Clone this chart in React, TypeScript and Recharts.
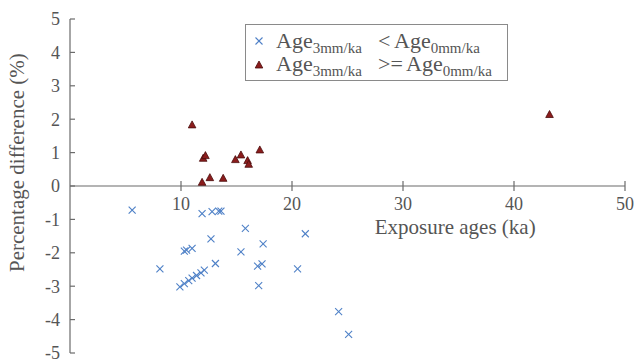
import { ScatterChart, Scatter, XAxis, YAxis, ReferenceLine, ReferenceDot } from "recharts";

// Age_3mm/ka < Age_0mm/ka
const lowerAges = [5.6, 11.9, 12.8, 13.4, 13.6, 15.8, 21.2, 12.7, 17.4, 10.3, 10.5, 11.0, 15.4, 8.1, 13.1, 16.9, 17.3, 20.5, 9.9, 10.3, 10.7, 11.0, 11.4, 11.8, 12.1, 17.0, 24.2, 25.1];
const lowerDiffs = [-0.72, -0.83, -0.77, -0.75, -0.75, -1.27, -1.43, -1.58, -1.73, -1.95, -1.92, -1.87, -1.97, -2.48, -2.32, -2.40, -2.33, -2.48, -3.02, -2.92, -2.83, -2.76, -2.68, -2.60, -2.52, -2.98, -3.76, -4.44];

// Age_3mm/ka >= Age_0mm/ka
const higherAges = [11.0, 12.0, 12.2, 12.6, 11.9, 13.8, 14.9, 15.4, 16.0, 16.1, 17.1, 43.2];
const higherDiffs = [1.83, 0.83, 0.91, 0.25, 0.11, 0.23, 0.79, 0.93, 0.76, 0.65, 1.08, 2.14];

const xTicks = [10, 20, 30, 40, 50];
const yTicks = [-5, -4, -3, -2, -1, 0, 1, 2, 3, 4, 5];

const FONT = "Liberation Serif, DejaVu Serif, serif";
const AXIS = "#6b6b6b";
const TEXT = "#555";
const BLUE = "#4f81c7";
const RED = "#8b1c1c";

const lowerData = lowerAges.map((x, i) => ({ x, y: lowerDiffs[i] }));
const higherData = higherAges.map((x, i) => ({ x, y: higherDiffs[i] }));

const CrossMark = (props: any) => {
    const { cx, cy } = props;
    const s = 3.5;
    return (
        <g stroke={BLUE} strokeWidth={1.1}>
            <line x1={cx - s} y1={cy - s} x2={cx + s} y2={cy + s} />
            <line x1={cx - s} y1={cy + s} x2={cx + s} y2={cy - s} />
        </g>
    );
};

const TriMark = (props: any) => {
    const { cx, cy } = props;
    return (
        <polygon
            points={`${cx},${cy - 4} ${cx - 3.8},${cy + 3} ${cx + 3.8},${cy + 3}`}
            fill={RED}
            stroke="#4a0d0d"
            strokeWidth={0.8}
        />
    );
};

const XTick = (props: any) => {
    const { cx, cy, label } = props;
    return (
        <g>
            <line x1={cx} y1={cy - 5} x2={cx} y2={cy + 5} stroke={AXIS} strokeWidth={1.2} />
            <text x={cx} y={cy + 24} textAnchor="middle" fontFamily={FONT} fontSize={18} fill={TEXT}>
                {label}
            </text>
        </g>
    );
};

const ageLabel = (sub: string) => (
    <span>
        Age<sub style={{ fontSize: 15, verticalAlign: "-5px", lineHeight: 0 }}>{sub}</sub>
    </span>
);

function ChartLegend() {
    return (
        <div
            style={{
                position: "absolute",
                left: 245,
                top: 24,
                width: 261,
                height: 55,
                border: "1px solid #8a8a8a",
                background: "#fff",
                fontFamily: FONT,
                fontSize: 22,
                color: TEXT,
                lineHeight: "23px",
            }}
        >
            {[
                { mark: "cross", op: "<" },
                { mark: "tri", op: ">=" },
            ].map((row, i) => (
                <div key={i} style={{ display: "flex", alignItems: "center", height: 23, marginTop: i === 0 ? 4 : 0 }}>
                    <svg width={30} height={12} style={{ flex: "none" }}>
                        {row.mark === "cross" ? <CrossMark cx={13} cy={6} /> : <TriMark cx={13} cy={7} />}
                    </svg>
                    <span style={{ width: 102, flex: "none" }}>{ageLabel("3mm/ka")}</span>
                    <span style={{ width: row.op === "<" ? 16 : 28, flex: "none" }}>{row.op}</span>
                    {ageLabel("0mm/ka")}
                </div>
            ))}
        </div>
    );
}

export default function App() {
    return (
        <div style={{ position: "absolute", left: 0, top: 0, width: 635, height: 362, background: "#fff" }}>
            <ScatterChart width={635} height={362} margin={{ top: 19, right: 10, bottom: 9, left: 0 }}>
                <XAxis type="number" dataKey="x" domain={[0, 50]} hide />
                <YAxis
                    type="number"
                    dataKey="y"
                    width={70}
                    domain={[-5, 5]}
                    ticks={yTicks}
                    interval={0}
                    tickSize={-5}
                    tickMargin={15}
                    stroke={AXIS}
                    strokeWidth={1.2}
                    tick={{ fontFamily: FONT, fontSize: 18, fill: TEXT }}
                />
                <ReferenceLine y={0} stroke={AXIS} strokeWidth={1.2} />
                {xTicks.map((t) => (
                    <ReferenceDot key={t} x={t} y={0} r={0} shape={(p: any) => <XTick {...p} label={t} />} />
                ))}
                <ReferenceDot
                    x={34.7}
                    y={0}
                    r={0}
                    shape={(p: any) => (
                        <text x={p.cx} y={p.cy + 48} textAnchor="middle" fontFamily={FONT} fontSize={21} fill={TEXT}>
                            Exposure ages (ka)
                        </text>
                    )}
                />
                <ReferenceDot
                    x={0}
                    y={0.7}
                    r={0}
                    shape={(p: any) => (
                        <text
                            x={p.cx - 46}
                            y={p.cy}
                            transform={`rotate(-90, ${p.cx - 46}, ${p.cy})`}
                            textAnchor="middle"
                            fontFamily={FONT}
                            fontSize={21}
                            fill={TEXT}
                        >
                            Percentage difference (%)
                        </text>
                    )}
                />
                <Scatter name="lower" data={lowerData} shape={<CrossMark />} isAnimationActive={false} />
                <Scatter name="higher" data={higherData} shape={<TriMark />} isAnimationActive={false} />
            </ScatterChart>
            <ChartLegend />
        </div>
    );
}
